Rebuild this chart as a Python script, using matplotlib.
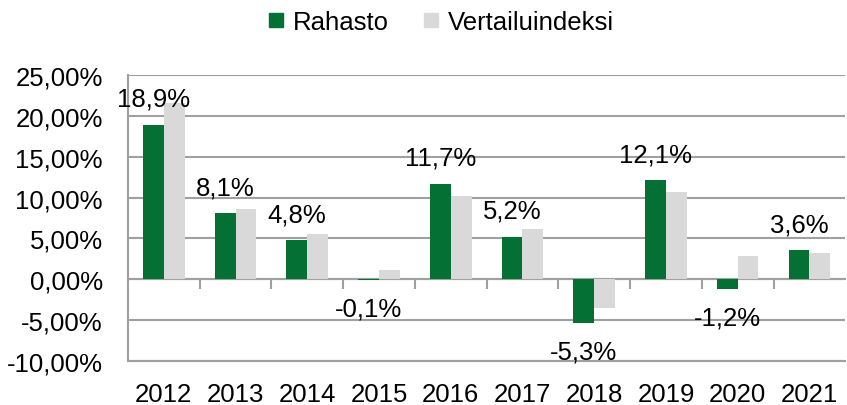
import numpy as np
import matplotlib.pyplot as plt
from matplotlib.ticker import FuncFormatter, FixedLocator

plt.rcParams['font.family'] = ['Liberation Sans', 'DejaVu Sans']

years = ['2012', '2013', '2014', '2015', '2016', '2017', '2018', '2019', '2020', '2021']
rahasto = [18.9, 8.1, 4.8, -0.1, 11.7, 5.2, -5.3, 12.1, -1.2, 3.6]
vertailu = [21.6, 8.6, 5.6, 1.1, 10.2, 6.1, -3.5, 10.7, 2.8, 3.2]

green = '#047033'
grey = '#d9d9d9'
gridc = '#a0a0a0'
fs = 18.5

fig = plt.figure(figsize=(8.47, 4.06), dpi=100)
ax = fig.add_axes([0.151, 0.108, 0.847, 0.705])

x = np.arange(len(years))
w = 0.29
ax.bar(x - w/2, rahasto, w, color=green, label='Rahasto', zorder=3)
ax.bar(x + w/2, vertailu, w, color=grey, label='Vertailuindeksi', zorder=3)

for xi, v in zip(x, rahasto):
    lab = '{:.1f}%'.format(v).replace('.', ',')
    if v >= 0:
        ax.annotate(lab, (xi - w/2, v), xytext=(0, 10), textcoords='offset points',
                    ha='center', va='bottom', fontsize=fs)
    else:
        ax.annotate(lab, (xi - w/2, v), xytext=(0, -12), textcoords='offset points',
                    ha='center', va='top', fontsize=fs)

ax.set_xlim(-0.5, len(years) - 0.5)
ax.set_ylim(-10, 25)
ax.set_yticks(np.arange(-10, 26, 5))
ax.yaxis.set_major_formatter(FuncFormatter(lambda v, p: '{:.2f}%'.format(v).replace('.', ',')))
ax.grid(axis='y', color=gridc, linewidth=1.5, zorder=0)
ax.set_axisbelow(True)

ax.set_xticks(x)
ax.set_xticklabels(years)
ax.tick_params(axis='both', length=0, labelsize=fs, colors='black')
ax.tick_params(axis='x', pad=15)
ax.tick_params(axis='y', pad=18)

for s in ['top', 'right']:
    ax.spines[s].set_visible(False)
ax.spines['left'].set_color(gridc)
ax.spines['left'].set_linewidth(1.5)
ax.spines['bottom'].set_color(gridc)
ax.spines['bottom'].set_linewidth(1.5)

# zero axis with ticks between categories
sec = ax.secondary_xaxis(10/35)
sec.spines['bottom'].set_color(gridc)
sec.spines['bottom'].set_linewidth(1.5)
sec.xaxis.set_major_locator(FixedLocator(x[1:] - 0.5))
sec.tick_params(axis='x', direction='out', length=7, width=1.5, color=gridc, labelbottom=False)

h = [plt.Line2D([], [], marker='s', linestyle='none', markersize=10, color=c) for c in (green, grey)]
fig.legend(h, ['Rahasto', 'Vertailuindeksi'], loc='upper center', bbox_to_anchor=(0.52, 1.03),
           ncol=2, frameon=False, fontsize=fs, handlelength=0.7, handletextpad=0.3,
           columnspacing=1.3)

plt.savefig('out.png')
